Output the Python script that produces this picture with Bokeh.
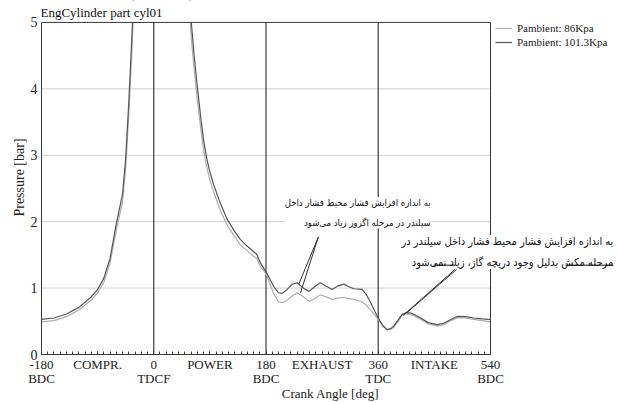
from math import pi
from bokeh.plotting import figure
from bokeh.models import (Range1d, FixedTicker, Label, Legend, LegendItem, Arrow, BoxAnnotation)
from bokeh.embed import file_html
from bokeh.resources import INLINE

# ---------------- data ----------------
crank_angle = [-180, -160, -140, -120, -100, -90, -80, -70, -60, -50, -45, -40, -35, -30, -20, -10,
               0, 10, 20, 30, 40, 50, 60, 65, 70, 75, 80, 85, 90, 96, 105, 118, 130, 139, 150, 160,
               165, 171, 181, 192, 200, 206, 214, 222, 230, 240, 249, 258, 267, 276, 286, 295,
               305, 313, 321, 334, 341, 348, 354, 360, 367, 374, 380, 385, 392, 398, 405, 412,
               420, 428, 440, 455, 465, 475, 487, 500, 513, 527, 540]

p_101 = [0.53, 0.55, 0.61, 0.71, 0.87, 0.98, 1.15, 1.45, 1.97, 2.42, 2.95, 3.8, 4.8, 6.0, 10.0, 17.0,
         24.0, 28.0, 22.0, 15.0, 10.0, 7.0, 5.02, 4.48, 4.02, 3.6, 3.22, 2.95, 2.75, 2.56, 2.32, 2.03,
         1.85, 1.73, 1.63, 1.55, 1.51, 1.38, 1.23, 1.03, 0.93, 0.92, 0.98, 1.06, 1.08, 1.0, 0.95,
         1.02, 1.08, 1.03, 0.98, 1.03, 1.06, 1.02, 0.99, 0.98, 0.9, 0.78, 0.66, 0.55, 0.44, 0.375,
         0.39, 0.43, 0.52, 0.6, 0.63, 0.625, 0.59, 0.55, 0.48, 0.45, 0.47, 0.52, 0.575, 0.57, 0.55,
         0.535, 0.525]

p_86 = [0.49, 0.51, 0.57, 0.67, 0.82, 0.93, 1.09, 1.38, 1.87, 2.3, 2.8, 3.62, 4.58, 5.7, 9.5, 16.0,
        22.6, 26.5, 20.8, 14.2, 9.5, 6.6, 4.78, 4.27, 3.83, 3.43, 3.07, 2.82, 2.63, 2.45, 2.21, 1.94,
        1.77, 1.65, 1.56, 1.48, 1.45, 1.33, 1.2, 0.92, 0.79, 0.78, 0.82, 0.88, 0.93, 0.87, 0.8,
        0.84, 0.9, 0.87, 0.83, 0.85, 0.86, 0.84, 0.83, 0.79, 0.74, 0.66, 0.6, 0.53, 0.43, 0.37,
        0.38, 0.41, 0.5, 0.58, 0.61, 0.605, 0.57, 0.53, 0.46, 0.43, 0.45, 0.5, 0.555, 0.55, 0.53,
        0.51, 0.49]

series_labels = ["Pambient: 86Kpa", "Pambient: 101.3Kpa"]

x_min, x_max = -180, 540
y_min, y_max = 0, 5
x_ticks = [-180, -90, 0, 90, 180, 270, 360, 450, 540]
x_tick_labels = ["-180\nBDC", "COMPR.", "0\nTDCF", "POWER", "180\nBDC", "EXHAUST",
                 "360\nTDC", "INTAKE", "540\nBDC"]
x_minor_ticks = list(range(-180, 541, 10))
y_ticks = [0, 1, 2, 3, 4, 5]
phase_lines = [0, 180, 360]

title_text = "EngCylinder part cyl01"
x_title = "Crank Angle [deg]"
y_title = "Pressure [bar]"

note1_lines = ["به اندازه افزایش فشار محیط فشار داخل", "سیلندر در مرحله اگزوز زیاد می‌شود"]
note1_pos = (444, 2.135)
note1_leaders = [((264, 1.77), (232.6, 1.06)), ((264, 1.77), (235.3, 0.93))]

note2_lines = ["به اندازه افزایش فشار محیط فشار داخل سیلندر در",
               "مرحله مکش بدلیل وجود دریچه گاز، زیاد نمی‌شود"]
note2_pos = (737, 1.545)
note2_leaders = [((485.5, 1.28), (406, 0.63)), ((483, 1.28), (400, 0.59))]
note2_underlines = [((448.6, 1.345), (483.9, 1.345)), ((660.3, 1.345), (737, 1.345))]

# ---------------- layout geometry (pixels) ----------------
W, H = 619, 403
LEFT, BOTTOM = 41, 48          # axis panels
AX_W, AX_H = 449, 333          # size of the -180..540 x 0..5 box
frame_w, frame_h = W - LEFT, H - BOTTOM
x_end = x_min + (x_max - x_min) * frame_w / AX_W
y_end = y_min + (y_max - y_min) * frame_h / AX_H

SERIF = "Liberation Serif"
DARK = "#555555"
LIGHT = "#adadad"
AX = "#3a3a3a"

p = figure(width=W, height=H, output_backend="svg", toolbar_location=None,
           x_range=Range1d(x_min, x_end), y_range=Range1d(y_min, y_end),
           min_border_left=LEFT, min_border_right=0, min_border_top=0, min_border_bottom=BOTTOM)
p.background_fill_color = "white"
p.border_fill_color = "white"
p.outline_line_color = None
p.xgrid.visible = False
p.ygrid.visible = False

xa = p.xaxis[0]
xa.bounds = (x_min, x_max)
xa.ticker = FixedTicker(ticks=x_ticks, minor_ticks=x_minor_ticks)
xa.major_label_overrides = {t: l for t, l in zip(x_ticks, x_tick_labels)}
xa.major_label_text_font = SERIF
xa.major_label_text_font_size = "13px"
xa.major_label_text_color = "#222222"
xa.major_label_text_line_height = 0.95
xa.major_label_standoff = 2
xa.major_tick_in = 3
xa.major_tick_out = 0
xa.minor_tick_in = 3
xa.minor_tick_out = 0
xa.major_tick_line_color = AX
xa.minor_tick_line_color = AX
xa.axis_line_color = AX
xa.axis_label = x_title
xa.axis_label_text_font = SERIF
xa.axis_label_text_font_style = "normal"
xa.axis_label_text_font_size = "13px"
xa.axis_label_text_color = "#222222"
xa.axis_label_standoff = -3

ya = p.yaxis[0]
ya.bounds = (y_min, y_max)
ya.ticker = FixedTicker(ticks=y_ticks, minor_ticks=[])
ya.major_label_text_font = SERIF
ya.major_label_text_font_size = "14px"
ya.major_label_text_color = "#222222"
ya.major_label_standoff = 4
ya.major_tick_in = 0
ya.major_tick_out = 0
ya.axis_line_color = AX
ya.axis_label = y_title
ya.axis_label_text_font = SERIF
ya.axis_label_text_font_style = "normal"
ya.axis_label_text_font_size = "14px"
ya.axis_label_text_color = "#222222"
ya.axis_label_standoff = 1

# horizontal grid lines inside the box
grid_y = y_ticks[1:-1]
p.segment(x0=[x_min] * len(grid_y), y0=grid_y, x1=[x_max] * len(grid_y), y1=grid_y,
          line_color="#cfcfcf", line_width=1, level="underlay")
# TDC / BDC phase lines
p.segment(x0=phase_lines, y0=[y_min] * len(phase_lines), x1=phase_lines,
          y1=[y_max] * len(phase_lines), line_color="#4a4a4a", line_width=1.3)

r86 = p.line(crank_angle, p_86, line_color=LIGHT, line_width=1.2)
r101 = p.line(crank_angle, p_101, line_color=DARK, line_width=1.2)

# hide the part of the curves above the axis top
p.add_layout(BoxAnnotation(bottom=y_max, fill_color="white", fill_alpha=1.0, line_alpha=0))

# box top and right edge
p.segment(x0=[x_min, x_max], y0=[y_max, y_min], x1=[x_max, x_max], y1=[y_max, y_max],
          line_color=AX, line_width=1, level="overlay")

legend = Legend(items=[LegendItem(label=series_labels[0], renderers=[r86]),
                       LegendItem(label=series_labels[1], renderers=[r101])],
                location=(454, 305), orientation="vertical",
                padding=0, margin=0, spacing=0, label_height=14, glyph_height=14,
                glyph_width=17, label_standoff=5,
                border_line_color=None, background_fill_alpha=0,
                label_text_font=SERIF, label_text_font_size="11px",
                label_text_color="#222222")
p.add_layout(legend, "center")

p.add_layout(Label(x=x_min, y=y_max, x_offset=-1, y_offset=2, text=title_text,
                   text_font=SERIF, text_font_size="13px", text_color="#111111",
                   text_baseline="bottom", text_align="left"))

# annotations
for (x0, y0), (x1, y1) in note1_leaders + note2_leaders:
    p.add_layout(Arrow(x_start=x0, y_start=y0, x_end=x1, y_end=y1, end=None,
                       line_color="#333333", line_width=1))

ARABIC = "DejaVu Sans Condensed, DejaVu Sans"
p.add_layout(Label(x=note1_pos[0], y=note1_pos[1], text="\n".join(note1_lines),
                   text_font=ARABIC, text_font_size="9.5px", text_color="#111111",
                   text_align="right", text_baseline="middle", text_line_height=1.85,
                   background_fill_color="white", level="overlay"))
p.add_layout(Label(x=note2_pos[0], y=note2_pos[1], text="\n".join(note2_lines),
                   text_font=ARABIC, text_font_size="11px", text_color="#111111",
                   text_align="right", text_baseline="middle", text_line_height=1.6,
                   background_fill_color="white", level="overlay"))
for (x0, y0), (x1, y1) in note2_underlines:
    p.add_layout(Arrow(x_start=x0, y_start=y0, x_end=x1, y_end=y1, end=None,
                       line_color="#111111", line_width=1, level="overlay"))

open("out.html", "w").write(file_html(p, INLINE))
